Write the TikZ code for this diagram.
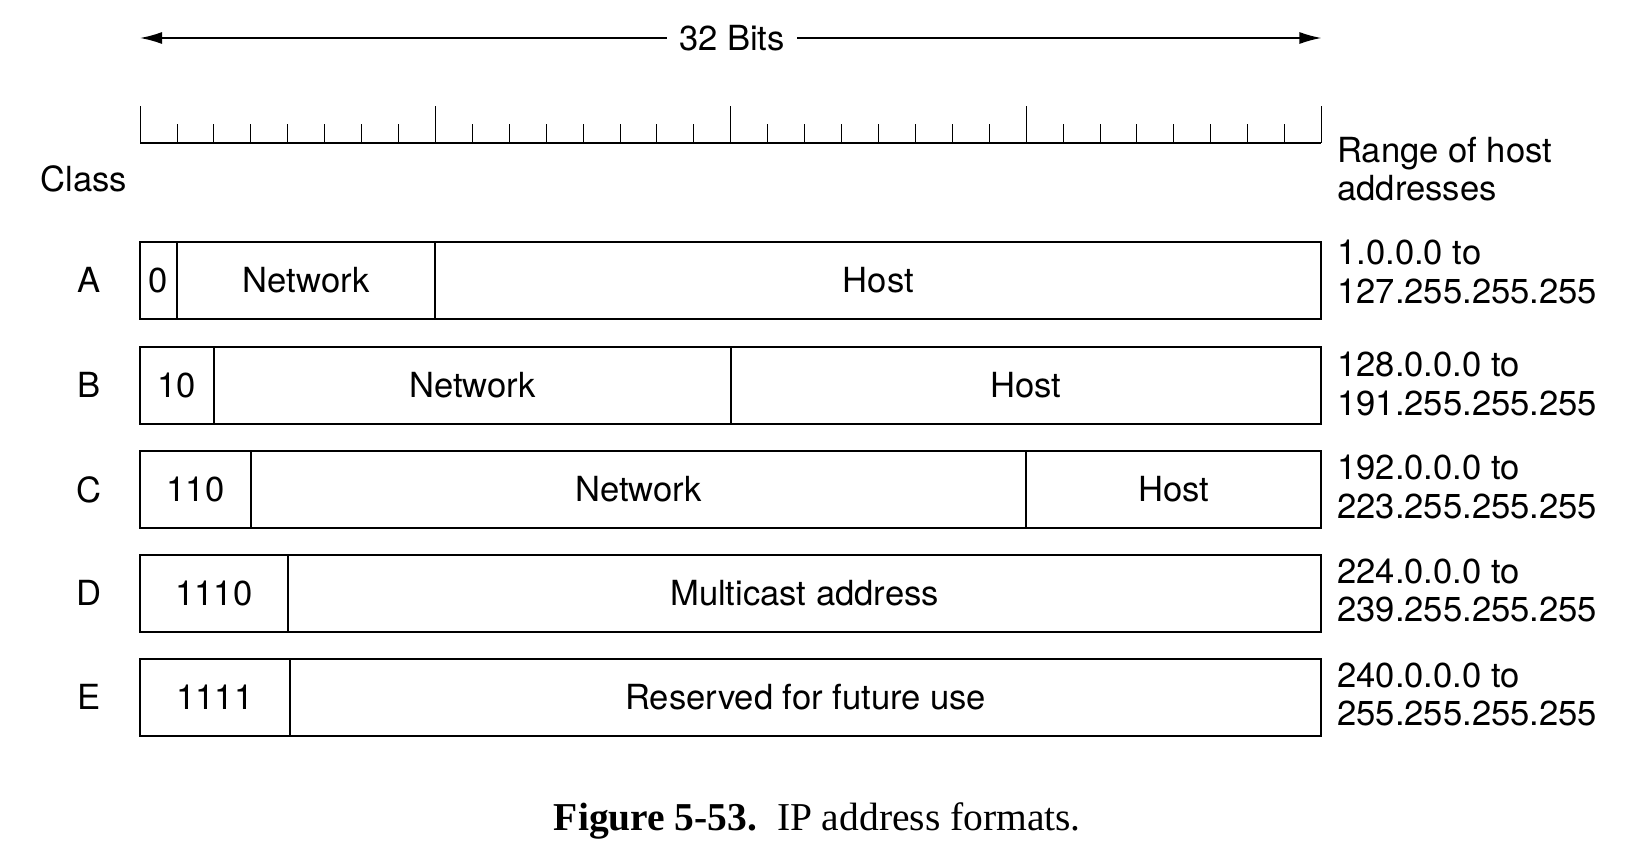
\documentclass[tikz,border=0pt]{standalone}
\usepackage{fontspec}
\setmainfont{TeX Gyre Heros}
\newfontfamily\figfont{Liberation Serif}
\usetikzlibrary{arrows.meta}

\tikzset{
    field/.style={draw, line width=1pt, inner sep=0pt, outer sep=0pt, minimum height=38.5pt, anchor=west, font=\fontsize{17.3}{19.4}\selectfont},
    lbl/.style={inner sep=0pt, font=\fontsize{17.3}{19.4}\selectfont},
    rangetxt/.style={lbl, anchor=west, align=left},
    ruler/.style={line width=1pt},
}

\begin{document}
\begin{tikzpicture}[x=1pt, y=1pt]
        \def\bitw{18.46}
        \def\xleft{70}
        \def\xright{660.72}
        \def\rulery{352.5}
        \useasboundingbox (0,0) rectangle (816,424);

        \node[lbl, inner xsep=6pt] (bits) at(366, 405) {32 Bits};
        \coordinate (bitsl) at(\xleft, 405);
        \coordinate (bitsr) at(\xright, 405);
        \draw [-{Latex[length=11pt, width=6pt]}, thick] (bits) -- (bitsl);
        \draw [-{Latex[length=11pt, width=6pt]}, thick] (bits) -- (bitsr);

        \draw [ruler] (\xleft, \rulery) -- (\xright, \rulery);
        \foreach \i in {0,...,32} {
            \pgfmathsetmacro\tick{mod(\i,8)==0 ? 18.5 : 9.25}
            \draw (\xleft+\i*\bitw, \rulery) -- ++(0, \tick);
        }

        \node[lbl] (cls) at(42, 334.5) {Class};
        \node[rangetxt] (rng) at(668.5, 339.5) {Range of host\\addresses};

        \node[lbl] (ca) at(44.5, 284) {A};
        \node[field, minimum width=1*\bitw*1pt] (a0) at(\xleft, 284) {0};
        \node[field, minimum width=7*\bitw*1pt] (anet) at(a0.east) {Network};
        \node[field, minimum width=24*\bitw*1pt] (ahost) at(anet.east) {Host};
        \node[rangetxt] (ra) at(668.5, 288) {1.0.0.0 to\\127.255.255.255};

        \node[lbl] (cb) at(44.5, 231.5) {B};
        \node[field, minimum width=2*\bitw*1pt] (b0) at(\xleft, 231.5) {10};
        \node[field, minimum width=14*\bitw*1pt] (bnet) at(b0.east) {Network};
        \node[field, minimum width=16*\bitw*1pt] (bhost) at(bnet.east) {Host};
        \node[rangetxt] (rb) at(668.5, 232) {128.0.0.0 to\\191.255.255.255};

        \node[lbl] (cc) at(44.5, 179.25) {C};
        \node[field, minimum width=3*\bitw*1pt] (c0) at(\xleft, 179.25) {110};
        \node[field, minimum width=21*\bitw*1pt] (cnet) at(c0.east) {Network};
        \node[field, minimum width=8*\bitw*1pt] (chost) at(cnet.east) {Host};
        \node[rangetxt] (rc) at(668.5, 180.5) {192.0.0.0 to\\223.255.255.255};

        \node[lbl] (cd) at(44.5, 127.5) {D};
        \node[field, minimum width=4*\bitw*1pt] (d0) at(\xleft, 127.5) {1110};
        \node[field, minimum width=28*\bitw*1pt] (dmc) at(d0.east) {Multicast address};
        \node[rangetxt] (rd) at(668.5, 128.75) {224.0.0.0 to\\239.255.255.255};

        \node[lbl] (ce) at(44.5, 75.5) {E};
        \node[field, minimum width=4.06*\bitw*1pt] (e0) at(\xleft, 75.5) {1111};
        \node[field, minimum width=27.94*\bitw*1pt] (eres) at(e0.east) {Reserved for future use};
        \node[rangetxt] (re) at(668.5, 76.75) {240.0.0.0 to\\255.255.255.255};

        \node[inner sep=0pt, anchor=base, font=\figfont\fontsize{19.75}{22}\selectfont] (cap) at(408.7, 9) {\textbf{Figure 5-53.}\ \ IP address formats.};
    \end{tikzpicture}
\end{document}
